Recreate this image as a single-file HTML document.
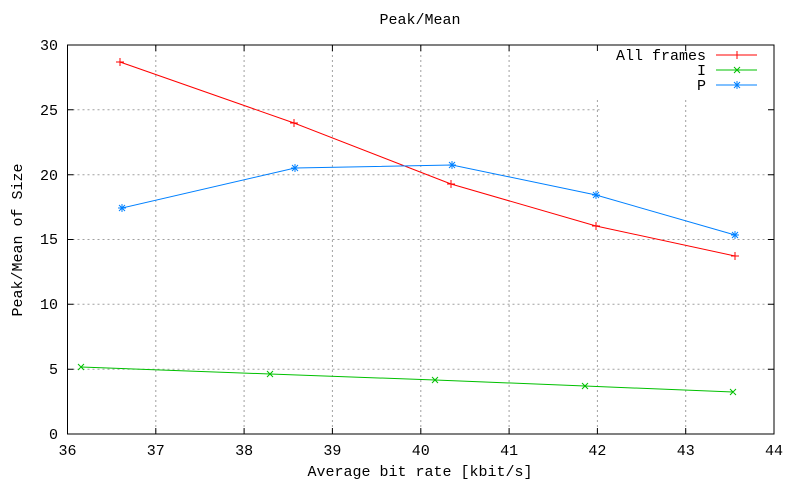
<!DOCTYPE html>
<html><head><style>html,body{margin:0;padding:0;background:#fff}</style></head><body>
<svg width="800" height="480" xmlns="http://www.w3.org/2000/svg" font-family="Liberation Mono, monospace" font-size="15" fill="#000">
<rect width="800" height="480" fill="#fff"/>
<g stroke="#a0a0a0" stroke-dasharray="2,3" stroke-width="1">
<line x1="155.8" y1="45" x2="155.8" y2="434"/><line x1="244.1" y1="45" x2="244.1" y2="434"/>
<line x1="332.4" y1="45" x2="332.4" y2="434"/><line x1="420.8" y1="45" x2="420.8" y2="434"/>
<line x1="509.1" y1="45" x2="509.1" y2="434"/><line x1="597.4" y1="100" x2="597.4" y2="434"/>
<line x1="685.7" y1="100" x2="685.7" y2="434"/>
<line x1="67.5" y1="369.2" x2="774" y2="369.2"/><line x1="67.5" y1="304.3" x2="774" y2="304.3"/>
<line x1="67.5" y1="239.5" x2="774" y2="239.5"/><line x1="67.5" y1="174.7" x2="774" y2="174.7"/>
<line x1="67.5" y1="109.8" x2="600" y2="109.8"/>
</g>
<rect x="67.5" y="45" width="706.5" height="389" fill="none" stroke="#000" stroke-width="1"/>
<g stroke="#000">
<path d="M155.8 434v-6M244.1 434v-6M332.4 434v-6M420.8 434v-6M509.1 434v-6M597.4 434v-6M685.7 434v-6M155.8 45v6M244.1 45v6M332.4 45v6M420.8 45v6M509.1 45v6M597.4 45v6M685.7 45v6"/>
<path d="M67.5 369.2h6M67.5 304.3h6M67.5 239.5h6M67.5 174.7h6M67.5 109.8h6M774 369.2h-6M774 304.3h-6M774 239.5h-6M774 174.7h-6M774 109.8h-6"/>
</g>
<g text-anchor="end">
<text x="58" y="439">0</text><text x="58" y="374">5</text><text x="58" y="309">10</text>
<text x="58" y="244">15</text><text x="58" y="180">20</text><text x="58" y="115">25</text><text x="58" y="50">30</text>
</g>
<g text-anchor="middle">
<text x="67.5" y="455">36</text><text x="155.8" y="455">37</text><text x="244.1" y="455">38</text>
<text x="332.4" y="455">39</text><text x="420.8" y="455">40</text><text x="509.1" y="455">41</text>
<text x="597.4" y="455">42</text><text x="685.7" y="455">43</text><text x="774" y="455">44</text>
<text x="420" y="24">Peak/Mean</text>
<text x="420" y="476">Average bit rate [kbit/s]</text>
<text transform="translate(22,240) rotate(-90)">Peak/Mean of Size</text>
</g>
<g text-anchor="end">
<text x="706" y="60">All frames</text><text x="706" y="75">I</text><text x="706" y="90">P</text>
</g>
<g fill="none" stroke-width="1">
<polyline stroke="#ff0000" points="120,62 294,123 451,184 596,226 735,256"/>
<polyline stroke="#00c000" points="81,367 270,374 435,380 585,386 733,392"/>
<polyline stroke="#0080ff" points="122,208 295,168 452,165 596,195 735,235"/>
<line stroke="#ff0000" x1="716" y1="55" x2="757" y2="55"/>
<line stroke="#00c000" x1="716" y1="70" x2="757" y2="70"/>
<line stroke="#0080ff" x1="716" y1="85" x2="757" y2="85"/>
<path stroke="#ff0000" d="M116 62h8M120 58v8M290 123h8M294 119v8M447 184h8M451 180v8M592 226h8M596 222v8M731 256h8M735 252v8M733 55h8M737 51v8"/>
<path stroke="#00c000" d="M78 364l6 6M78 370l6-6M267 371l6 6M267 377l6-6M432 377l6 6M432 383l6-6M582 383l6 6M582 389l6-6M730 389l6 6M730 395l6-6M734 67l6 6M734 73l6-6"/>
<path stroke="#0080ff" d="M118 208h8M122 204v8M119 205l6 6M119 211l6-6M291 168h8M295 164v8M292 165l6 6M292 171l6-6M448 165h8M452 161v8M449 162l6 6M449 168l6-6M592 195h8M596 191v8M593 192l6 6M593 198l6-6M731 235h8M735 231v8M732 232l6 6M732 238l6-6M733 85h8M737 81v8M734 82l6 6M734 88l6-6"/>
</g>
</svg>
</body></html>
